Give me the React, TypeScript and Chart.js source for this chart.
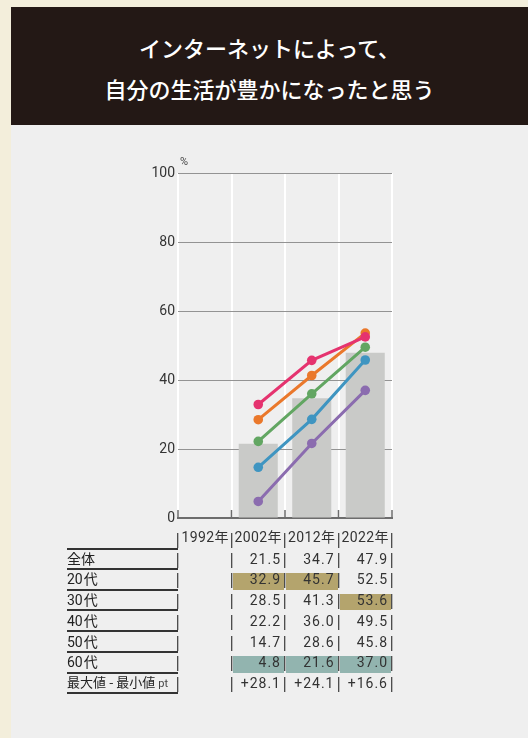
import React, { useEffect, useRef } from 'react';
import { Chart, registerables } from 'chart.js';

Chart.register(...registerables);

const titleLines = ['インターネットによって、', '自分の生活が豊かになったと思う'];
const years = ['1992年', '2002年', '2012年', '2022年'];
const rowLabels = ['全体', '20代', '30代', '40代', '50代', '60代'];
const overall: (number | null)[] = [null, 21.5, 34.7, 47.9];
const age20: (number | null)[] = [null, 32.9, 45.7, 52.5];
const age30: (number | null)[] = [null, 28.5, 41.3, 53.6];
const age40: (number | null)[] = [null, 22.2, 36.0, 49.5];
const age50: (number | null)[] = [null, 14.7, 28.6, 45.8];
const age60: (number | null)[] = [null, 4.8, 21.6, 37.0];
const yTicks = [0, 20, 40, 60, 80, 100];
const unitLabel = '%';
const spreadLabel = '最大値 - 最小値';
const spreadUnit = 'pt';

const ageSeries = [age20, age30, age40, age50, age60];
const lineColors = ['#e5336f', '#ea782b', '#62a662', '#3f95c1', '#8b6caf'];

const COLS = [178, 232, 285, 338.5, 392];
const LABEL_LEFT = 67;
const HEADER_TOP = 528;
const ROW_TOP = 549;
const ROW_H = 20.75;

const numFont = "Roboto, 'Noto Sans CJK JP', sans-serif";
const cjkFont = "'Noto Sans CJK JP', sans-serif";

const axisTicksPlugin = {
  id: 'axisTicks',
  afterDraw(chart: any) {
    const { ctx, chartArea, scales } = chart;
    const xs = scales.x;
    const n = chart.data.labels.length;
    const half = (xs.getPixelForValue(1) - xs.getPixelForValue(0)) / 2;
    ctx.save();
    ctx.strokeStyle = '#6d6d6d';
    ctx.lineWidth = 1.5;
    for (let i = 0; i <= n; i++) {
      const px = i < n ? xs.getPixelForValue(i) - half : xs.getPixelForValue(n - 1) + half;
      ctx.beginPath();
      ctx.moveTo(px, chartArea.bottom);
      ctx.lineTo(px, chartArea.bottom - 8);
      ctx.stroke();
    }
    ctx.restore();
  },
};

function Sep({ x, top }: { x: number; top: number }) {
  return (
    <div
      style={{
        position: 'absolute',
        left: x - 1,
        top,
        width: 2,
        height: 15,
        background: 'linear-gradient(to right, #4d4d4d 50%, #b8b8b8 50%)',
      }}
    />
  );
}

export default function App() {
  const ref = useRef<HTMLCanvasElement | null>(null);

  useEffect(() => {
    if (!ref.current) return;
    const datasets: any[] = [
      {
        type: 'bar',
        label: rowLabels[0],
        data: overall,
        backgroundColor: '#c9cac8',
        barPercentage: 0.73,
        categoryPercentage: 1,
        order: 10,
      },
    ];
    ageSeries.forEach((s, i) => {
      datasets.push({
        type: 'line',
        label: rowLabels[i + 1],
        data: s,
        borderColor: lineColors[i],
        backgroundColor: lineColors[i],
        borderWidth: 3,
        pointRadius: 4.8,
        pointBorderWidth: 0,
        pointBackgroundColor: lineColors[i],
        fill: false,
        tension: 0,
        order: i + 1,
      });
    });
    const chart = new Chart(ref.current, {
      type: 'bar',
      data: { labels: years, datasets },
      options: {
        animation: false,
        responsive: false,
        devicePixelRatio: 1,
        layout: { padding: { left: 0, top: 173, right: 528 - 392, bottom: 738 - 518 } },
        plugins: { legend: { display: false }, tooltip: { enabled: false } },
        scales: {
          x: {
            grid: { offset: true, color: '#ffffff', lineWidth: 2, drawTicks: false },
            border: { display: true, color: '#6d6d6d', width: 2 },
            ticks: { display: false },
            afterFit: (s: any) => {
              s.height = 0;
            },
          },
          y: {
            min: 0,
            max: 100,
            afterBuildTicks: (s: any) => {
              s.ticks = yTicks.map((v) => ({ value: v }));
            },
            ticks: {
              color: '#333333',
              font: { family: 'Roboto', size: 14 },
              padding: 3,
            },
            grid: { color: '#939393', lineWidth: 1, drawTicks: false },
            border: { display: false },
            afterFit: (s: any) => {
              s.width = 178;
            },
          },
        },
      },
      plugins: [axisTicksPlugin],
    } as any);
    return () => chart.destroy();
  }, []);

  const tableRows = [overall, ...ageSeries];
  const colMax = years.map((_, c) => {
    const vals = ageSeries.map((s) => s[c]).filter((v) => v !== null) as number[];
    return vals.length ? Math.max(...vals) : null;
  });
  const colMin = years.map((_, c) => {
    const vals = ageSeries.map((s) => s[c]).filter((v) => v !== null) as number[];
    return vals.length ? Math.min(...vals) : null;
  });
  const spread = years.map((_, c) =>
    colMax[c] !== null && colMin[c] !== null ? '+' + ((colMax[c] as number) - (colMin[c] as number)).toFixed(1) : ''
  );

  const cells: React.ReactNode[] = [];
  cells.push(
    <div
      key="hline"
      style={{
        position: 'absolute',
        left: LABEL_LEFT,
        top: ROW_TOP - 1,
        width: COLS[0] - LABEL_LEFT,
        height: 2,
        background: '#333',
      }}
    />
  );
  cells.push(<Sep key="hs0" x={COLS[0]} top={HEADER_TOP + 5} />);
  years.forEach((y, c) => {
    cells.push(
      <div
        key={'h' + c}
        style={{
          position: 'absolute',
          left: COLS[c],
          top: HEADER_TOP - 1,
          width: COLS[c + 1] - COLS[c] - 3,
          height: 21,
          lineHeight: '21px',
          textAlign: 'right',
          fontFamily: numFont,
          fontSize: 14,
          letterSpacing: 0.4,
          color: '#333',
          whiteSpace: 'nowrap',
        }}
      >
        {y}
      </div>
    );
    cells.push(<Sep key={'hs' + (c + 1)} x={COLS[c + 1]} top={HEADER_TOP + 5} />);
  });

  const allRows = [
    ...tableRows.map((r, i) => ({
      label: rowLabels[i],
      vals: r.map((v) => (v === null ? '' : v.toFixed(1))),
      raw: r,
      age: i > 0,
    })),
    { label: 'spread', vals: spread, raw: [null, null, null, null] as (number | null)[], age: false },
  ];

  allRows.forEach((row, r) => {
    const top = ROW_TOP + r * ROW_H;
    cells.push(
      <div
        key={'lb' + r}
        style={{
          position: 'absolute',
          left: LABEL_LEFT,
          top: top + ROW_H - 2,
          width: COLS[0] - LABEL_LEFT,
          height: 2,
          background: '#333',
        }}
      />
    );
    cells.push(
      <div
        key={'l' + r}
        style={{
          position: 'absolute',
          left: LABEL_LEFT,
          top: top - 1.5,
          width: COLS[0] - LABEL_LEFT,
          height: ROW_H,
          lineHeight: ROW_H + 'px',
          fontFamily: numFont,
          fontSize: 14,
          color: '#222',
          whiteSpace: 'nowrap',
        }}
      >
        {row.label === 'spread' ? (
          <span style={{ fontFamily: cjkFont, fontSize: 13 }}>
            {spreadLabel} <span style={{ fontFamily: numFont, fontSize: 11, color: '#444' }}>{spreadUnit}</span>
          </span>
        ) : (
          <span style={{ fontFamily: row.age ? numFont : cjkFont }}>
            {row.label.replace('代', '')}
            {row.age ? <span style={{ fontFamily: cjkFont, marginLeft: 1 }}>代</span> : null}
          </span>
        )}
      </div>
    );
    cells.push(<Sep key={'s0' + r} x={COLS[0]} top={top + 3.5} />);
    years.forEach((_, c) => {
      const v = row.raw[c];
      let bg = 'transparent';
      if (row.age && v !== null) {
        if (v === colMax[c]) bg = '#b4a46d';
        else if (v === colMin[c]) bg = '#92b4af';
      }
      cells.push(
        <div
          key={'c' + r + '_' + c}
          style={{
            position: 'absolute',
            left: COLS[c] + 1,
            top: top + 3,
            width: COLS[c + 1] - COLS[c] - 2,
            height: ROW_H - 4,
            background: bg,
          }}
        />
      );
      cells.push(
        <div
          key={'v' + r + '_' + c}
          style={{
            position: 'absolute',
            left: COLS[c],
            top: top - 0.5,
            width: COLS[c + 1] - COLS[c] - 4,
            height: ROW_H,
            lineHeight: ROW_H + 'px',
            textAlign: 'right',
            fontFamily: numFont,
            fontSize: 14,
            letterSpacing: 1,
            color: '#333',
            whiteSpace: 'nowrap',
          }}
        >
          {row.vals[c]}
        </div>
      );
      cells.push(<Sep key={'s' + (c + 1) + '_' + r} x={COLS[c + 1]} top={top + 3.5} />);
    });
  });

  return (
    <div
      style={{
        position: 'fixed',
        left: 0,
        top: 0,
        width: 528,
        height: 738,
        background: '#f3eedb',
        overflow: 'hidden',
      }}
    >
      <div
        style={{
          position: 'absolute',
          left: 11,
          top: 7,
          width: 517,
          height: 118,
          background: '#231815',
          color: '#ffffff',
          fontFamily: cjkFont,
          fontSize: 22,
          fontWeight: 500,
          textAlign: 'center',
        }}
      >
        <div style={{ position: 'absolute', left: 0, right: 0, top: 20, lineHeight: '41px' }}>
          {titleLines.map((t, i) => (
            <div key={i}>{t}</div>
          ))}
        </div>
      </div>
      <div
        style={{
          position: 'absolute',
          left: 11,
          top: 125,
          width: 517,
          height: 613,
          background: '#efefef',
        }}
      />
      <canvas
        ref={ref}
        width={528}
        height={738}
        style={{ position: 'absolute', left: 0, top: 0, width: 528, height: 738 }}
      />
      <div
        style={{
          position: 'absolute',
          left: 180,
          top: 155,
          fontFamily: numFont,
          fontSize: 11,
          color: '#444',
        }}
      >
        {unitLabel}
      </div>
      {cells}
    </div>
  );
}
